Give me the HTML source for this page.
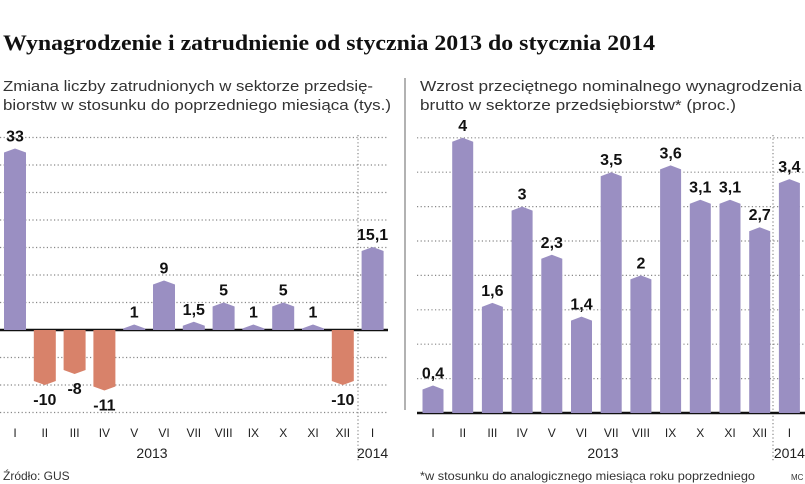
<!DOCTYPE html>
<html><head><meta charset="utf-8"><style>
body{margin:0;background:#fff;}
svg{display:block;font-family:"Liberation Sans",sans-serif;}
</style></head><body>
<svg id="c" width="805" height="484" viewBox="0 0 805 484" xmlns="http://www.w3.org/2000/svg">
<text x="3" y="50" font-family="Liberation Serif,serif" font-weight="bold" font-size="22" textLength="652" lengthAdjust="spacingAndGlyphs" fill="#111">Wynagrodzenie i zatrudnienie od stycznia 2013 do stycznia 2014</text>
<text x="3" y="91" font-size="15" fill="#333" textLength="370" lengthAdjust="spacingAndGlyphs">Zmiana liczby zatrudnionych w sektorze przedsię-</text>
<text x="3" y="110" font-size="15" fill="#333" textLength="388" lengthAdjust="spacingAndGlyphs">biorstw w stosunku do poprzedniego miesiąca (tys.)</text>
<text x="420" y="91" font-size="15" fill="#333" textLength="382" lengthAdjust="spacingAndGlyphs">Wzrost przeciętnego nominalnego wynagrodzenia</text>
<text x="420" y="110" font-size="15" fill="#333" textLength="316" lengthAdjust="spacingAndGlyphs">brutto w sektorze przedsiębiorstw* (proc.)</text>
<line x1="405" y1="78" x2="405" y2="410" stroke="#999" stroke-width="1.5"/>
<text x="3" y="480" font-size="12" fill="#333">Źródło: GUS</text>
<text x="420" y="480" font-size="12" fill="#333" textLength="335" lengthAdjust="spacingAndGlyphs">*w stosunku do analogicznego miesiąca roku poprzedniego</text>
<text x="791" y="480" font-size="8" fill="#333">MC</text>
<g id="left"></g><g id="right"></g>
</svg>
<script>
const months = ["I","II","III","IV","V","VI","VII","VIII","IX","X","XI","XII","I"];
const employmentValues = [33,-10,-8,-11,1,9,1.5,5,1,5,1,-10,15.1];
const employmentLabels = ["33","-10","-8","-11","1","9","1,5","5","1","5","1","-10","15,1"];
const employmentTicks = [-15,-10,-5,0,5,10,15,20,25,30,35];
const wageValues = [0.4,4,1.6,3,2.3,1.4,3.5,2,3.6,3.1,3.1,2.7,3.4];
const wageLabels = ["0,4","4","1,6","3","2,3","1,4","3,5","2","3,6","3,1","3,1","2,7","3,4"];
const wageTicks = [0.5,1,1.5,2,2.5,3,3.5,4];

const NS="http://www.w3.org/2000/svg";
function mk(parent,tag,attrs,text){const e=document.createElementNS(NS,tag);for(const k in attrs)e.setAttribute(k,attrs[k]);if(text!==undefined)e.textContent=text;parent.appendChild(e);return e;}
const PURPLE="#9a8fc2", ORANGE="#d8826a";

function drawPanel(g,cfg){
  const y=v=>cfg.zeroY - v*cfg.ppu;
  const x=i=>cfg.x0 + i*cfg.step;
  cfg.ticks.forEach(t=>{
    if(t===0) return;
    const l=mk(g,'line',{x1:cfg.gx1,x2:cfg.gx2,y1:y(t),y2:y(t),stroke:'#888','stroke-width':1.2,'stroke-dasharray':'1.2 2.4'});
    
    
  });
  const dv=mk(g,'line',{x1:cfg.divX,x2:cfg.divX,y1:cfg.divTop,y2:462,stroke:'#888','stroke-width':1.2,'stroke-dasharray':'1.2 2.4'});
  
  
  const z=mk(g,'line',{x1:cfg.gx1,x2:cfg.gx2,y1:cfg.zeroY,y2:cfg.zeroY,stroke:'#111','stroke-width':2.5});
  
  
  const w=cfg.bw, tip=4;
  cfg.values.forEach((v,i)=>{
    const cx=x(i), l=cx-w/2, r=cx+w/2, y0=cfg.zeroY, yv=y(v);
    let d;
    if(v>=0){ const top=Math.min(yv+tip,y0); d=`M${l},${y0} L${l},${top} L${cx},${yv} L${r},${top} L${r},${y0} Z`; }
    else { const bot=Math.max(yv-tip,y0); d=`M${l},${y0} L${l},${bot} L${cx},${yv} L${r},${bot} L${r},${y0} Z`; }
    const b=mk(g,'path',{d:d,fill:v>=0?PURPLE:ORANGE});
    
    
    const ly = v>=0 ? yv-7 : yv+20;
    const t=mk(g,'text',{x:cx,y:ly,'text-anchor':'middle','font-weight':'bold','font-size':16,fill:'#111'},cfg.labels[i]);
    
    
    const m=mk(g,'text',{x:cx,y:437,'text-anchor':'middle','font-size':12,fill:'#222'},months[i]);
    
    
  });
  const y1=mk(g,'text',{x:cfg.y13,y:458,'text-anchor':'middle','font-size':14,fill:'#222'},'2013');
  
  
  const y2=mk(g,'text',{x:x(12),y:458,'text-anchor':'middle','font-size':14,fill:'#222'},'2014');
  
  
}
drawPanel(document.getElementById('left'),{values:employmentValues,labels:employmentLabels,ticks:employmentTicks,zeroY:330,ppu:5.5,x0:15,step:29.8,bw:22,gx1:0,gx2:388,divX:358,divTop:135,y13:152});
drawPanel(document.getElementById('right'),{values:wageValues,labels:wageLabels,ticks:wageTicks,zeroY:413,ppu:68.8,x0:433,step:29.7,bw:21,gx1:417,gx2:805,divX:773,divTop:135,y13:603});
</script>
</body></html>
